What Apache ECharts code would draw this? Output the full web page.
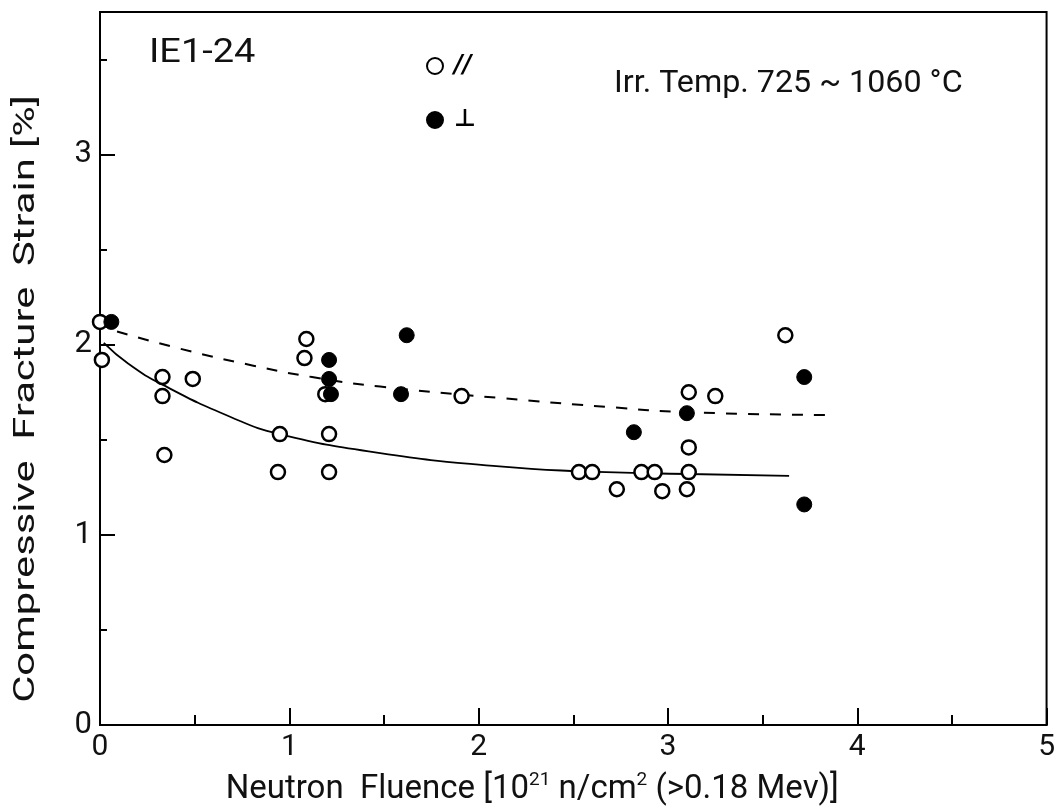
<!DOCTYPE html>
<html>
<head>
<meta charset="utf-8">
<script src="https://cdn.jsdelivr.net/npm/echarts@6/dist/echarts.min.js"></script>
<style>
html,body{margin:0;padding:0;background:#fff;}
#chart{width:1058px;height:811px;}
</style>
</head>
<body>
<div id="chart"></div>
<script>
// Open circles: parallel (//)
const parallelPoints = [
  [0.00, 2.12], [0.01, 1.92], [0.33, 1.83], [0.33, 1.73], [0.49, 1.82], [0.34, 1.42],
  [0.95, 1.53], [0.94, 1.33], [1.21, 1.53], [1.21, 1.33], [1.09, 2.03], [1.08, 1.93],
  [1.19, 1.74], [1.91, 1.73],
  [2.53, 1.33], [2.60, 1.33], [2.73, 1.24], [2.86, 1.33], [2.93, 1.33], [2.97, 1.23],
  [3.11, 1.33], [3.10, 1.24], [3.11, 1.46], [3.11, 1.75], [3.25, 1.73], [3.62, 2.05]
];
// Filled circles: perpendicular (⊥)
const perpPoints = [
  [0.06, 2.12], [1.21, 1.92], [1.21, 1.82], [1.22, 1.74], [1.62, 2.05], [1.59, 1.74],
  [2.82, 1.54], [3.10, 1.64], [3.72, 1.83], [3.72, 1.16]
];
// Solid trend curve (parallel)
const solidCurve = [
  [0.02, 2.01], [0.15, 1.90], [0.33, 1.79], [0.69, 1.62], [0.95, 1.53], [1.48, 1.43],
  [2.11, 1.36], [2.53, 1.335], [3.11, 1.32], [3.64, 1.31]
];
// Dashed trend curve (perpendicular)
const dashedCurve = [
  [0.09, 2.07], [0.42, 1.98], [0.81, 1.89], [1.12, 1.83], [1.48, 1.78],
  [2.11, 1.72], [2.69, 1.672], [3.10, 1.645], [3.87, 1.63]
];
const legendLabels = ['//', '\u22A5'];
const yAxisTitle = 'Compressive  Fracture  Strain [%]';
const specimenLabel = 'IE1-24';
const tempLabel = 'Irr. Temp. 725 ~ 1060 °C';

const FONT = 'Roboto, "DejaVu Sans", sans-serif';
const chart = echarts.init(document.getElementById('chart'));
chart.setOption({
  animation: false,
  backgroundColor: '#fff',
  grid: { left: 100, right: 10, top: 12, bottom: 85, show: true, borderColor: '#000', borderWidth: 2, backgroundColor: 'transparent' },
  legend: {
    data: legendLabels,
    orient: 'vertical',
    left: 421,
    top: 49,
    itemGap: 30,
    itemWidth: 16,
    itemHeight: 16,
    textStyle: { fontFamily: '"DejaVu Sans", sans-serif', fontSize: 24, color: '#000', fontStyle: 'italic', fontWeight: 'bold', padding: [0, 0, 0, 6] }
  },
  xAxis: {
    type: 'value', min: 0, max: 5, interval: 1,
    axisLine: { show: true, lineStyle: { color: '#000', width: 2 } },
    axisTick: { show: true, inside: true, length: 17, lineStyle: { color: '#000', width: 2 } },
    minorTick: { show: true, splitNumber: 2, length: 10, lineStyle: { color: '#000', width: 2 } },
    splitLine: { show: false },
    axisLabel: { fontFamily: FONT, fontSize: 30, color: '#111', margin: 7 },
    name: 'Neutron  Fluence [10{sup|21} n/cm{sup|2} (>0.18 Mev)]',
    nameLocation: 'middle',
    nameGap: 46,
    nameTextStyle: {
      fontFamily: FONT, fontSize: 33, color: '#111', padding: [0, 82, 0, 0],
      rich: { sup: { fontFamily: FONT, fontSize: 19, color: '#111', verticalAlign: 'top', padding: [0, 0, 18, 0] } }
    }
  },
  yAxis: [{
    type: 'value', min: 0, max: 3.75, interval: 1,
    axisLine: { show: true, lineStyle: { color: '#000', width: 2 } },
    axisTick: { show: true, inside: true, length: 15, lineStyle: { color: '#000', width: 2 } },
    splitLine: { show: false },
    axisLabel: { fontFamily: FONT, fontSize: 31, color: '#111', margin: 8, showMaxLabel: false }
  }, {
    type: 'value', min: 0, max: 3.75, interval: 0.5, position: 'left',
    axisLine: { show: false },
    axisTick: { show: true, inside: true, length: 7, lineStyle: { color: '#000', width: 2 } },
    splitLine: { show: false },
    axisLabel: { show: false }
  }],
  graphic: [
    { type: 'text', x: 27, y: 399, rotation: Math.PI / 2, scaleX: 1.44, z: 10,
      style: { text: yAxisTitle, font: '29px Roboto, sans-serif', fill: '#111', align: 'center', verticalAlign: 'middle', textAlign: 'center', textVerticalAlign: 'middle' } },
    { type: 'text', x: 149, y: 54, scaleX: 1.15, z: 10,
      style: { text: specimenLabel, font: '33px Roboto, sans-serif', fill: '#111', align: 'left', verticalAlign: 'middle', textAlign: 'left', textVerticalAlign: 'middle' } },
    { type: 'text', x: 614, y: 84, scaleX: 1.04, z: 10,
      style: { text: tempLabel, font: '31px Roboto, sans-serif', fill: '#111', align: 'left', verticalAlign: 'middle', textAlign: 'left', textVerticalAlign: 'middle' } }
  ],
  series: [
    {
      name: legendLabels[0], type: 'scatter', data: parallelPoints, symbol: 'circle', symbolSize: 14,
      itemStyle: { color: '#fff', borderColor: '#000', borderWidth: 2.5, opacity: 1 }, z: 5
    },
    {
      name: legendLabels[1], type: 'scatter', data: perpPoints, symbol: 'circle', symbolSize: 15,
      itemStyle: { color: '#000', borderColor: '#000', borderWidth: 1, opacity: 1 }, z: 6
    },
    {
      name: 'solid', type: 'line', data: solidCurve, smooth: 0.5, showSymbol: false,
      lineStyle: { color: '#000', width: 1.8 }, z: 3
    },
    {
      name: 'dashed', type: 'line', data: dashedCurve, smooth: 0.5, showSymbol: false,
      lineStyle: { color: '#000', width: 2, type: [11, 11] }, z: 3
    }
  ]
});
</script>
</body>
</html>
